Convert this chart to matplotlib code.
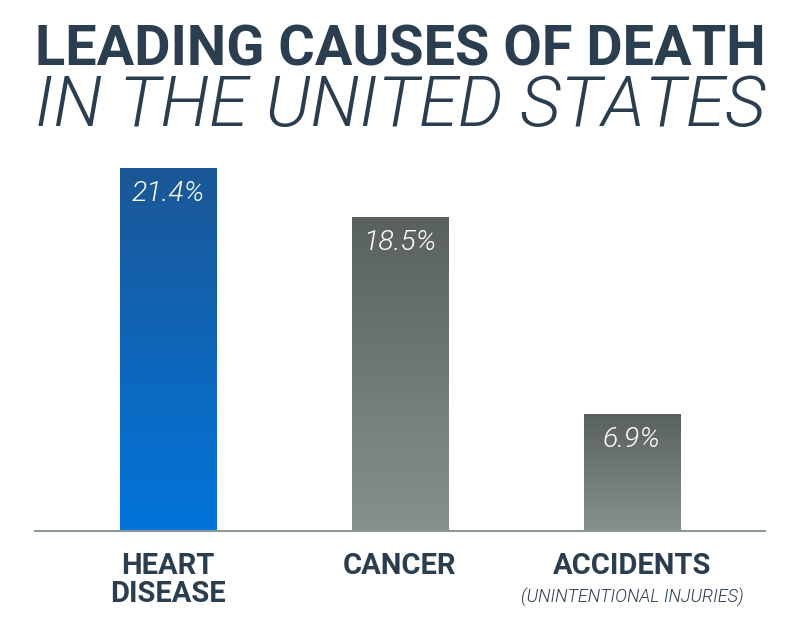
import numpy as np
import matplotlib
matplotlib.use("Agg")
import matplotlib.pyplot as plt
from matplotlib.colors import LinearSegmentedColormap
from matplotlib.transforms import blended_transform_factory

# data
categories = ["HEART\nDISEASE", "CANCER", "ACCIDENTS"]
notes = ["", "", "(UNINTENTIONAL INJURIES)"]
shares = [21.4, 18.5, 6.9]
value_labels = ["21.4%", "18.5%", "6.9%"]
highlight = [True, False, False]

TITLE = "#2b3e50"
BLUE_TOP, BLUE_BOT = "#1b5796", "#0275db"
GREY_TOP, GREY_BOT = "#59615f", "#86918f"

plt.rcParams["font.family"] = ["Roboto", "DejaVu Sans"]

W, H = 800, 639
fig = plt.figure(figsize=(W / 100, H / 100), dpi=100)

# axes placed in pixel terms: baseline at y=531, x from 35 to 765
base_y, top_y = 531, 149.4
ax = fig.add_axes([35 / W, (H - base_y) / H, 730 / W, (base_y - top_y) / H])

x = np.arange(len(shares))
bar_w = 0.414
bars = ax.bar(x, shares, width=bar_w, color="none", edgecolor="none")

# vertical gradient fill, clipped to each bar
grad = np.linspace(1, 0, 256).reshape(-1, 1)
for rect, hl in zip(bars, highlight):
    top, bot = (BLUE_TOP, BLUE_BOT) if hl else (GREY_TOP, GREY_BOT)
    cmap = LinearSegmentedColormap.from_list("g", [bot, top])
    x0, w, h = rect.get_x(), rect.get_width(), rect.get_height()
    im = ax.imshow(grad, cmap=cmap, extent=(x0, x0 + w, 0, h),
                   aspect="auto", origin="upper", zorder=2)
    im.set_clip_path(rect)

for xi, val, lab in zip(x, shares, value_labels):
    ax.text(xi, val - 1.5, lab, ha="center", va="center", color="white",
            fontsize=20.5, fontstyle="italic", fontweight=300, zorder=3)

ax.set_xlim(-0.573, 2.573)
ax.set_ylim(0, 22.5)
ax.set_xticks([])
ax.set_yticks([])
for s in ["top", "left", "right"]:
    ax.spines[s].set_visible(False)
ax.spines["bottom"].set_color("#8c9898")
ax.spines["bottom"].set_linewidth(1.5)

trans = blended_transform_factory(ax.transData, ax.transAxes)
for xi, cat, note in zip(x, categories, notes):
    ax.text(xi, -0.055, cat, transform=trans, ha="center", va="top",
            color=TITLE, fontsize=21, fontweight="bold", linespacing=1.0)
    if note:
        ax.text(xi, -0.15, note, transform=trans, ha="center", va="top",
                color=TITLE, fontsize=13, fontstyle="italic", fontweight=300)

# title, scaled to the full axis width
t1 = fig.text(35 / W, 1 - 24 / H, "LEADING CAUSES OF DEATH", ha="left", va="top",
              color=TITLE, fontsize=40, fontweight="bold")
t2 = fig.text(35 / W, 1 - 73 / H, "IN THE UNITED STATES", ha="left", va="top",
              color=TITLE, fontsize=40, fontstyle="italic", fontweight=300)
fig.canvas.draw()
r = fig.canvas.get_renderer()
for t in (t1, t2):
    bw = t.get_window_extent(r).width
    t.set_fontsize(t.get_fontsize() * 730 / bw)

fig.savefig("out.png", dpi=100)
